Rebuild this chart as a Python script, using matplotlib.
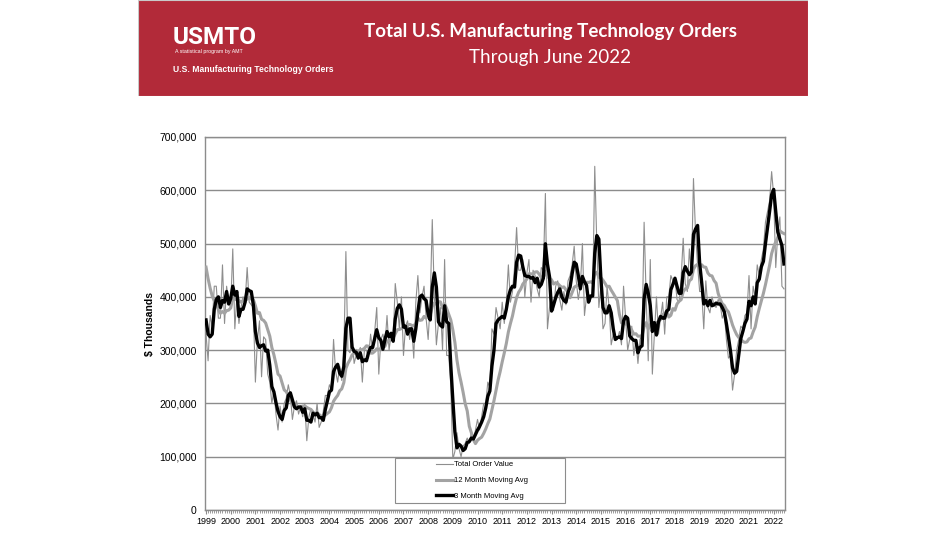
"""Total U.S. Manufacturing Technology Orders, through June 2022."""

import matplotlib
matplotlib.use("Agg")
import matplotlib.pyplot as plt
import numpy as np
import pandas as pd
from matplotlib.patches import Rectangle
from matplotlib.ticker import FuncFormatter, MultipleLocator

# monthly total order value, $ thousands (x1000 below); 1998 only seeds the averages
orders_1998 = [560, 540, 580, 520, 530, 500, 480, 440, 420, 390, 360, 380]
orders_by_year = {
    1999: [330, 280, 365, 345, 420, 420, 360, 360, 460, 350, 420, 390],
    2000: [380, 490, 340, 400, 350, 380, 400, 390, 455, 390, 385, 380],
    2001: [240, 320, 355, 250, 325, 320, 255, 240, 200, 225, 180, 150],
    2002: [195, 165, 200, 210, 235, 215, 170, 195, 205, 180, 195, 175],
    2003: [200, 130, 175, 190, 180, 165, 200, 155, 165, 185, 215, 215],
    2004: [235, 225, 320, 260, 240, 270, 243, 295, 485, 300, 295, 323],
    2005: [275, 290, 290, 305, 240, 300, 300, 285, 330, 300, 335, 380],
    2006: [255, 320, 330, 310, 365, 300, 330, 320, 425, 390, 340, 400],
    2007: [290, 345, 355, 320, 345, 285, 390, 440, 370, 400, 420, 360],
    2008: [320, 390, 545, 400, 310, 350, 380, 300, 470, 290, 290, 235],
    2009: [95, 110, 145, 115, 100, 120, 125, 135, 125, 145, 130, 150],
    2010: [170, 150, 175, 200, 200, 240, 230, 340, 330, 380, 360, 340],
    2011: [390, 350, 390, 460, 390, 410, 455, 530, 450, 450, 470, 400],
    2012: [445, 470, 390, 450, 440, 415, 400, 455, 450, 594, 340, 380],
    2013: [400, 375, 420, 430, 395, 375, 410, 385, 430, 440, 460, 495],
    2014: [430, 395, 420, 500, 365, 400, 405, 400, 400, 645, 500, 380],
    2015: [420, 340, 350, 420, 380, 310, 330, 320, 320, 335, 310, 420],
    2016: [360, 300, 320, 345, 290, 320, 275, 320, 330, 540, 400, 280],
    2017: [470, 255, 330, 400, 330, 360, 390, 330, 400, 400, 440, 430],
    2018: [435, 395, 390, 435, 510, 425, 410, 490, 440, 622, 520, 460],
    2019: [410, 410, 340, 430, 380, 370, 400, 385, 380, 395, 385, 360],
    2020: [370, 320, 285, 290, 225, 255, 300, 320, 345, 340, 365, 370],
    2021: [440, 340, 420, 400, 460, 440, 470, 490, 540, 560, 580, 635],
    2022: [590, 455, 520, 550, 420, 415],
}
year_labels = [str(y) for y in range(1999, 2023)]
series_labels = ["Total Order Value", "12 Month Moving Avg", "3 Month Moving Avg"]

raw = pd.Series(orders_1998 + sum(orders_by_year.values(), [])) * 1000
ma12 = raw.rolling(12).mean()
ma3 = raw.rolling(3).mean()
n_seed = len(orders_1998)
total = raw.iloc[n_seed:].to_numpy()
ma12 = ma12.iloc[n_seed:].to_numpy()
ma3 = ma3.iloc[n_seed:].to_numpy()
x = np.arange(len(total))

plt.rcParams["font.family"] = ["Liberation Sans", "DejaVu Sans"]

fig = plt.figure(figsize=(9.48, 5.33), dpi=100)

# red banner
W, H = 948, 533
banner = fig.add_axes([138 / W, 1 - 96 / H, 670 / W, 96 / H])
banner.set_xlim(0, 670)
banner.set_ylim(96, 0)
banner.add_patch(Rectangle((0, 0), 670, 96, facecolor="#B22A39",
                           edgecolor="#C9C9C9", lw=0.8))
banner.axis("off")
banner.text(35, 37, "USMTO", color="white", fontsize=17.5, fontweight="bold",
            family="Roboto", va="center", ha="left")
banner.text(37, 51, "A statistical program by AMT", color="white", fontsize=3.8,
            va="center", ha="left")
banner.text(35, 69, "U.S. Manufacturing Technology Orders", color="white",
            fontsize=6.2, fontweight="bold", va="center", ha="left")
banner.text(412, 32, "Total U.S. Manufacturing Technology Orders", color="white",
            fontsize=13.5, fontweight="bold", family="Lato", va="center", ha="center")
banner.text(412, 57, "Through June 2022", color="white", fontsize=13.5,
            family="Lato", va="center", ha="center")

# main chart
ax = fig.add_axes([205 / W, 1 - 510 / H, 580 / W, 373 / H])
ax.plot(x, total, color="#8E8E8E", lw=0.8, label=series_labels[0], zorder=3)
ax.plot(x, ma12, color="#A3A3A3", lw=2.2, label=series_labels[1], zorder=4)
ax.plot(x, ma3, color="black", lw=2.4, label=series_labels[2], zorder=5)

ax.set_xlim(-0.5, len(total) - 0.5)
ax.set_ylim(0, 700000)
ax.yaxis.set_major_locator(MultipleLocator(100000))
ax.yaxis.set_major_formatter(FuncFormatter(lambda v, p: f"{v:,.0f}"))
ax.grid(axis="y", color="#8C8C8C", lw=1.0, zorder=1)
ax.set_xticks(np.arange(0, len(total), 12))
ax.set_xticklabels(year_labels)
ax.xaxis.set_minor_locator(MultipleLocator(1))
ax.tick_params(axis="x", which="major", labelsize=6.5, length=3, color="#8C8C8C", pad=2)
ax.tick_params(axis="x", which="minor", length=2, color="#8C8C8C")
ax.tick_params(axis="y", labelsize=7.5, length=0, pad=6)
for side in ax.spines.values():
    side.set_color("#8C8C8C")
    side.set_linewidth(1.0)
ax.set_ylabel("$ Thousands", fontsize=7.5, fontweight="bold", labelpad=3)

# legend with a wider plain frame
ax.add_patch(Rectangle((0.3276, 0.019), 0.293, 0.12, transform=ax.transAxes,
                       facecolor="white", edgecolor="#8C8C8C", lw=0.8, zorder=6))
leg = ax.legend(loc="center", bbox_to_anchor=(0.478, 0.079), frameon=False,
                fontsize=5.5, handlelength=2.2, labelspacing=1.1, handletextpad=0.2)
leg.set_zorder(7)

fig.savefig("out.png", dpi=100)
